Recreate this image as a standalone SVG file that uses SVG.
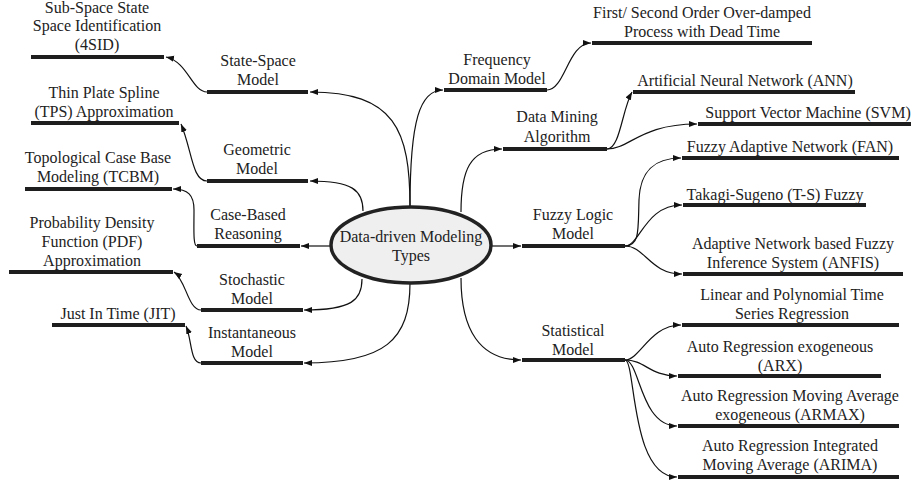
<svg xmlns="http://www.w3.org/2000/svg" width="913" height="482" viewBox="0 0 913 482">
<defs>
<style>
text{font-family:"Liberation Serif","Times New Roman",serif;font-size:16px;fill:#222;text-anchor:middle}
.bar{stroke:#1e1e1e;stroke-width:4;fill:none}
.c{stroke:#111;stroke-width:1.2;fill:none;marker-end:url(#ah)}
</style>
<marker id="ah" markerUnits="userSpaceOnUse" markerWidth="9" markerHeight="7" refX="8" refY="3" orient="auto">
<path d="M0,0 L8,3 L0,6 z" fill="#111"/>
</marker>
</defs>
<rect width="913" height="482" fill="#fff"/>
<g id="connectors">
<path class="c" d="M410 207 C410 130,395 92,310 92"/>
<path class="c" d="M363 211 C363 190,352 181,310 181"/>
<path class="c" d="M330 246 L301 246"/>
<path class="c" d="M362 279 C362 300,352 310,304 310"/>
<path class="c" d="M410 283 C410 340,385 363,304 363"/>
<path class="c" d="M410 207 C410 120,420 90,443 90"/>
<path class="c" d="M461 212 C461 170,470 149,502 149"/>
<path class="c" d="M492 246 L521 246"/>
<path class="c" d="M461 278 C461 330,480 360,521 360"/>
<path class="c" d="M207 92 C192 92,188 62,166 57"/>
<path class="c" d="M207 181 C192 181,192 150,181 124"/>
<path class="c" d="M197 246 C193 246,194 230,194 210 C194 195,188 189,173 189"/>
<path class="c" d="M201 310 C188 310,186 280,174 272"/>
<path class="c" d="M201 363 C190 363,192 340,186 326"/>
<path class="c" d="M547 90 C565 90,568 43,591 43"/>
<path class="c" d="M607 149 C620 149,622 110,632 92"/>
<path class="c" d="M607 149 C630 149,640 124,697 124"/>
<path class="c" d="M625 246 C640 246,638 230,639 200 C640 170,655 158,681 158"/>
<path class="c" d="M625 246 C640 246,645 205,682 205"/>
<path class="c" d="M625 246 C645 246,650 274,682 274"/>
<path class="c" d="M625 360 C640 360,650 325,681 325"/>
<path class="c" d="M625 360 C645 360,650 376,677 376"/>
<path class="c" d="M625 360 C640 360,640 426,677 426"/>
<path class="c" d="M625 360 C636 360,630 477,677 477"/>
</g>
<g id="root">
<ellipse cx="411" cy="245" rx="80" ry="38" fill="#efefef" stroke="#222" stroke-width="3.5"/>
<text x="411" y="242">Data-driven Modeling</text>
<text x="411" y="261">Types</text>
</g>
<g id="n-4sid"><text x="97" y="13">Sub-Space State</text><text x="97" y="31">Space Identification</text><text x="97" y="50">(4SID)</text><line class="bar" x1="31" y1="57" x2="164" y2="57"/></g>
<g id="n-statespace"><text x="258" y="66">State-Space</text><text x="258" y="85">Model</text><line class="bar" x1="207" y1="92" x2="308" y2="92"/></g>
<g id="n-tps"><text x="104" y="98">Thin Plate Spline</text><text x="104" y="117">(TPS) Approximation</text><line class="bar" x1="31" y1="123" x2="179" y2="123"/></g>
<g id="n-geometric"><text x="257" y="155">Geometric</text><text x="257" y="174">Model</text><line class="bar" x1="207" y1="181" x2="308" y2="181"/></g>
<g id="n-tcbm"><text x="98" y="163">Topological Case Base</text><text x="98" y="182">Modeling (TCBM)</text><line class="bar" x1="25" y1="189" x2="172" y2="189"/></g>
<g id="n-casebased"><text x="248" y="220">Case-Based</text><text x="248" y="239">Reasoning</text><line class="bar" x1="197" y1="246" x2="300" y2="246"/></g>
<g id="n-pdf"><text x="92" y="228">Probability Density</text><text x="92" y="247">Function (PDF)</text><text x="92" y="266">Approximation</text><line class="bar" x1="9" y1="272" x2="173" y2="272"/></g>
<g id="n-stochastic"><text x="252" y="285">Stochastic</text><text x="252" y="304">Model</text><line class="bar" x1="201" y1="310" x2="303" y2="310"/></g>
<g id="n-jit"><text x="118" y="319">Just In Time (JIT)</text><line class="bar" x1="52" y1="325" x2="185" y2="325"/></g>
<g id="n-instantaneous"><text x="252" y="338">Instantaneous</text><text x="252" y="357">Model</text><line class="bar" x1="201" y1="363" x2="303" y2="363"/></g>
<g id="n-frequency"><text x="497" y="65">Frequency</text><text x="497" y="84">Domain Model</text><line class="bar" x1="444" y1="90" x2="547" y2="90"/></g>
<g id="n-fopdt"><text x="702" y="18">First/ Second Order Over-damped</text><text x="702" y="37">Process with Dead Time</text><line class="bar" x1="592" y1="43" x2="812" y2="43"/></g>
<g id="n-datamining"><text x="557" y="122">Data Mining</text><text x="557" y="142">Algorithm</text><line class="bar" x1="503" y1="149" x2="607" y2="149"/></g>
<g id="n-ann"><text x="745" y="86">Artificial Neural Network (ANN)</text><line class="bar" x1="633" y1="92" x2="855" y2="92"/></g>
<g id="n-svm"><text x="808" y="118">Support Vector Machine (SVM)</text><line class="bar" x1="698" y1="124" x2="911" y2="124"/></g>
<g id="n-fan"><text x="790" y="152">Fuzzy Adaptive Network (FAN)</text><line class="bar" x1="682" y1="158" x2="899" y2="158"/></g>
<g id="n-fuzzy"><text x="573" y="220">Fuzzy Logic</text><text x="573" y="239">Model</text><line class="bar" x1="522" y1="246" x2="625" y2="246"/></g>
<g id="n-ts"><text x="775" y="200">Takagi-Sugeno (T-S) Fuzzy</text><line class="bar" x1="683" y1="205" x2="866" y2="205"/></g>
<g id="n-anfis"><text x="793" y="249">Adaptive Network based Fuzzy</text><text x="793" y="268">Inference System (ANFIS)</text><line class="bar" x1="683" y1="274" x2="903" y2="274"/></g>
<g id="n-linear"><text x="792" y="300">Linear and Polynomial Time</text><text x="792" y="319">Series Regression</text><line class="bar" x1="682" y1="325" x2="899" y2="325"/></g>
<g id="n-statistical"><text x="573" y="336">Statistical</text><text x="573" y="355">Model</text><line class="bar" x1="522" y1="360" x2="625" y2="360"/></g>
<g id="n-arx"><text x="780" y="352">Auto Regression exogeneous</text><text x="780" y="371">(ARX)</text><line class="bar" x1="678" y1="376" x2="881" y2="376"/></g>
<g id="n-armax"><text x="790" y="401">Auto Regression Moving Average</text><text x="790" y="420">exogeneous (ARMAX)</text><line class="bar" x1="678" y1="426" x2="899" y2="426"/></g>
<g id="n-arima"><text x="790" y="451">Auto Regression Integrated</text><text x="790" y="470">Moving Average (ARIMA)</text><line class="bar" x1="678" y1="477" x2="899" y2="477"/></g>
</svg>
